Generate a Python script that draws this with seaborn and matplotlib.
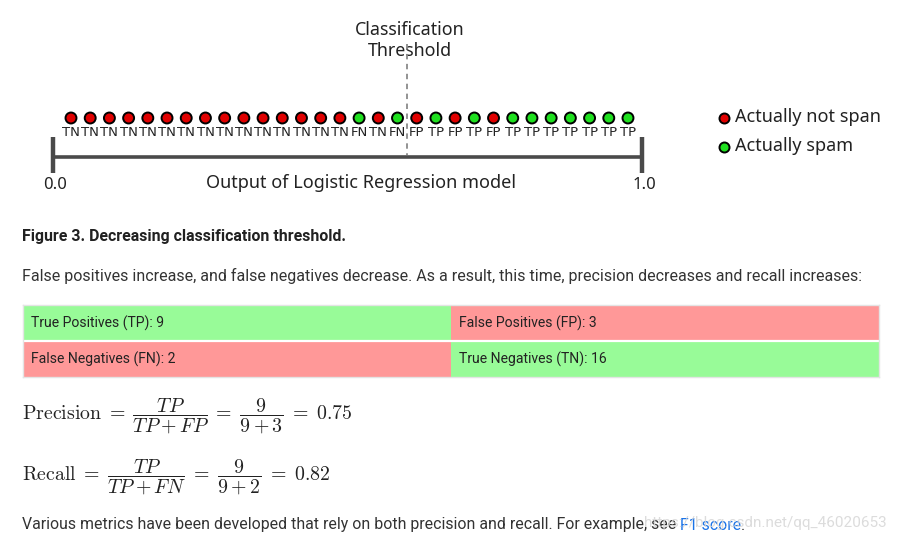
import matplotlib
matplotlib.use("Agg")
import matplotlib.pyplot as plt
import numpy as np
import pandas as pd
import seaborn as sns
from matplotlib.colors import ListedColormap

# ---------------- data ----------------
outcomes = ["TN", "TN", "TN", "TN", "TN", "TN", "TN", "TN", "TN", "TN",
            "TN", "TN", "TN", "TN", "TN", "FN", "TN", "FN", "FP", "TP",
            "FP", "TP", "FP", "TP", "TP", "TP", "TP", "TP", "TP", "TP"]
threshold_after = 18          # threshold lies between the 18th and 19th example
axis_labels = ["0.0", "1.0"]
legend_labels = ["Actually not span", "Actually spam"]
cell_names = [["True Positives (TP)", "False Positives (FP)"],
              ["False Negatives (FN)", "True Negatives (TN)"]]
cell_keys = [["TP", "FP"], ["FN", "TN"]]

counts = {k: outcomes.count(k) for k in ["TP", "FP", "FN", "TN"]}
precision = counts["TP"] / (counts["TP"] + counts["FP"])
recall = counts["TP"] / (counts["TP"] + counts["FN"])

df = pd.DataFrame({"rank": np.arange(len(outcomes)), "outcome": outcomes})
df["actual"] = np.where(df["outcome"].isin(["TP", "FN"]), legend_labels[1], legend_labels[0])
df["y"] = 0

RED = "#e00000"
GREEN = "#1fe01f"
CELL_GREEN = "#98fb98"
CELL_RED = "#ff9898"

sns.set_theme(style="white")
plt.rcParams["mathtext.fontset"] = "cm"

W, H = 897, 543
fig = plt.figure(figsize=(W / 100, H / 100), dpi=100)
fig.patch.set_facecolor("white")

# overlay axes in pixel coordinates for layout text
ov = fig.add_axes([0, 0, 1, 1])
ov.set_xlim(0, W)
ov.set_ylim(H, 0)
ov.axis("off")

# ---------------- dots axis ----------------
x0px, x1px = 53, 642
lo, hi = -0.937, 29.73
dax = fig.add_axes([x0px / W, 1 - 128 / H, (x1px - x0px) / W, 20 / H])
sns.scatterplot(data=df, x="rank", y="y", hue="actual",
                palette={legend_labels[0]: RED, legend_labels[1]: GREEN},
                s=62, edgecolor="black", linewidth=1.4, legend=False, ax=dax,
                zorder=3, clip_on=False)
dax.set_xlim(lo, hi)
dax.set_ylim(-1, 1)
dax.axis("off")
for r, o in zip(df["rank"], df["outcome"]):
    dax.text(r, -1.45, o, ha="center", va="center", fontsize=9.5,
             family=["Liberation Sans Narrow", "DejaVu Sans"], color="#222222",
             clip_on=False)

# threshold line
thr_x = threshold_after - 0.5
dax.plot([thr_x, thr_x], [1 + (128 - 64) / 10 * 1, -1 - (155 - 128) / 10],
         ls=(0, (3, 2.5)), color="#8a8a8a", lw=1.3, clip_on=False, zorder=1)

# axis line
ov.plot([x0px, x1px], [157, 157], color="#4a4a4a", lw=2.6, solid_capstyle="butt")
ov.plot([x0px, x0px], [137, 173], color="#4a4a4a", lw=3.2, solid_capstyle="butt")
ov.plot([x1px, x1px], [137, 173], color="#4a4a4a", lw=3.2, solid_capstyle="butt")

seg = ["Noto Sans", "DejaVu Sans"]
ov.text(x0px + 2, 185, axis_labels[0], ha="center", va="center", fontsize=12, family=seg, color="#222")
ov.text(x1px + 2, 185, axis_labels[1], ha="center", va="center", fontsize=12, family=seg, color="#222")
ov.text(361, 183, "Output of Logistic Regression model", ha="center", va="center",
        fontsize=13, family=seg, color="#222")
ov.text(410, 30, "Classification", ha="center", va="center", fontsize=12.8, family=seg, color="#222")
ov.text(410, 51, "Threshold", ha="center", va="center", fontsize=12.8, family=seg, color="#222")

# legend
for i, (lab, col) in enumerate(zip(legend_labels, [RED, GREEN])):
    yy = 118 + i * 29
    ov.scatter([724], [yy], s=52, color=col, edgecolor="black", linewidth=1.4, zorder=3)
    ov.text(735, yy - 1, lab, ha="left", va="center", fontsize=13, family=seg, color="#222")

# ---------------- caption & paragraph ----------------
rob = ["Roboto", "DejaVu Sans"]
ov.text(22, 237, "Figure 3. Decreasing classification threshold.", ha="left", va="center",
        fontsize=11.4, family=rob, weight="bold", color="#212121")
ov.text(22, 276, "False positives increase, and false negatives decrease. As a result, this time, "
        "precision decreases and recall increases:", ha="left", va="center",
        fontsize=11.5, family=rob, color="#333333")

# ---------------- confusion table ----------------
tax = fig.add_axes([23 / W, 1 - 377 / H, (879 - 23) / W, (377 - 305) / H])
correct = np.array([[1 if k in ("TP", "TN") else 0 for k in row] for row in cell_keys])
sns.heatmap(correct, cmap=ListedColormap([CELL_RED, CELL_GREEN]), vmin=0, vmax=1,
            cbar=False, linewidths=0, ax=tax)
tax.axhline(1, color="white", lw=1.6)
for sp in tax.spines.values():
    sp.set_visible(True)
    sp.set_color("#e4e4e4")
    sp.set_linewidth(1.0)
tax.set_xticks([]); tax.set_yticks([])
for r in range(2):
    for c in range(2):
        tax.text(c + 0.018, r + 0.5, f"{cell_names[r][c]}: {counts[cell_keys[r][c]]}",
                 ha="left", va="center", fontsize=10.1, family=rob, color="#222222")

# ---------------- formulas ----------------
ov.text(22, 416, r"$\mathrm{Precision}\;=\;\dfrac{TP}{TP+FP}\;=\;\dfrac{%d}{%d+%d}\;=\;%.2f$"
        % (counts["TP"], counts["TP"], counts["FP"], precision),
        ha="left", va="center", fontsize=14.3, color="#222")
ov.text(22, 477, r"$\mathrm{Recall}\;=\;\dfrac{TP}{TP+FN}\;=\;\dfrac{%d}{%d+%d}\;=\;%.2f$"
        % (counts["TP"], counts["TP"], counts["FN"], recall),
        ha="left", va="center", fontsize=14.3, color="#222")

# ---------------- bottom text ----------------
fig.canvas.draw()
rend = fig.canvas.get_renderer()
t1 = ov.text(22, 525, "Various metrics have been developed that rely on both precision and recall. "
             "For example, see ", ha="left", va="center", fontsize=11.4, family=rob, color="#333333")
bb = t1.get_window_extent(rend)
xpix = bb.x1
t2 = ov.text(xpix, 525, "F1 score", ha="left", va="center", fontsize=11.4, family=rob, color="#1a73e8")
bb2 = t2.get_window_extent(rend)
ov.text(bb2.x1, 525, ".", ha="left", va="center", fontsize=11.4, family=rob, color="#333333")
# watermark
ov.text(887, 523, "https://blog.csdn.net/qq_46020653", ha="right", va="center",
        fontsize=11, family=rob, color="#d6d6d6", alpha=0.85, zorder=5)

fig.savefig("out.png", dpi=100, facecolor="white")
